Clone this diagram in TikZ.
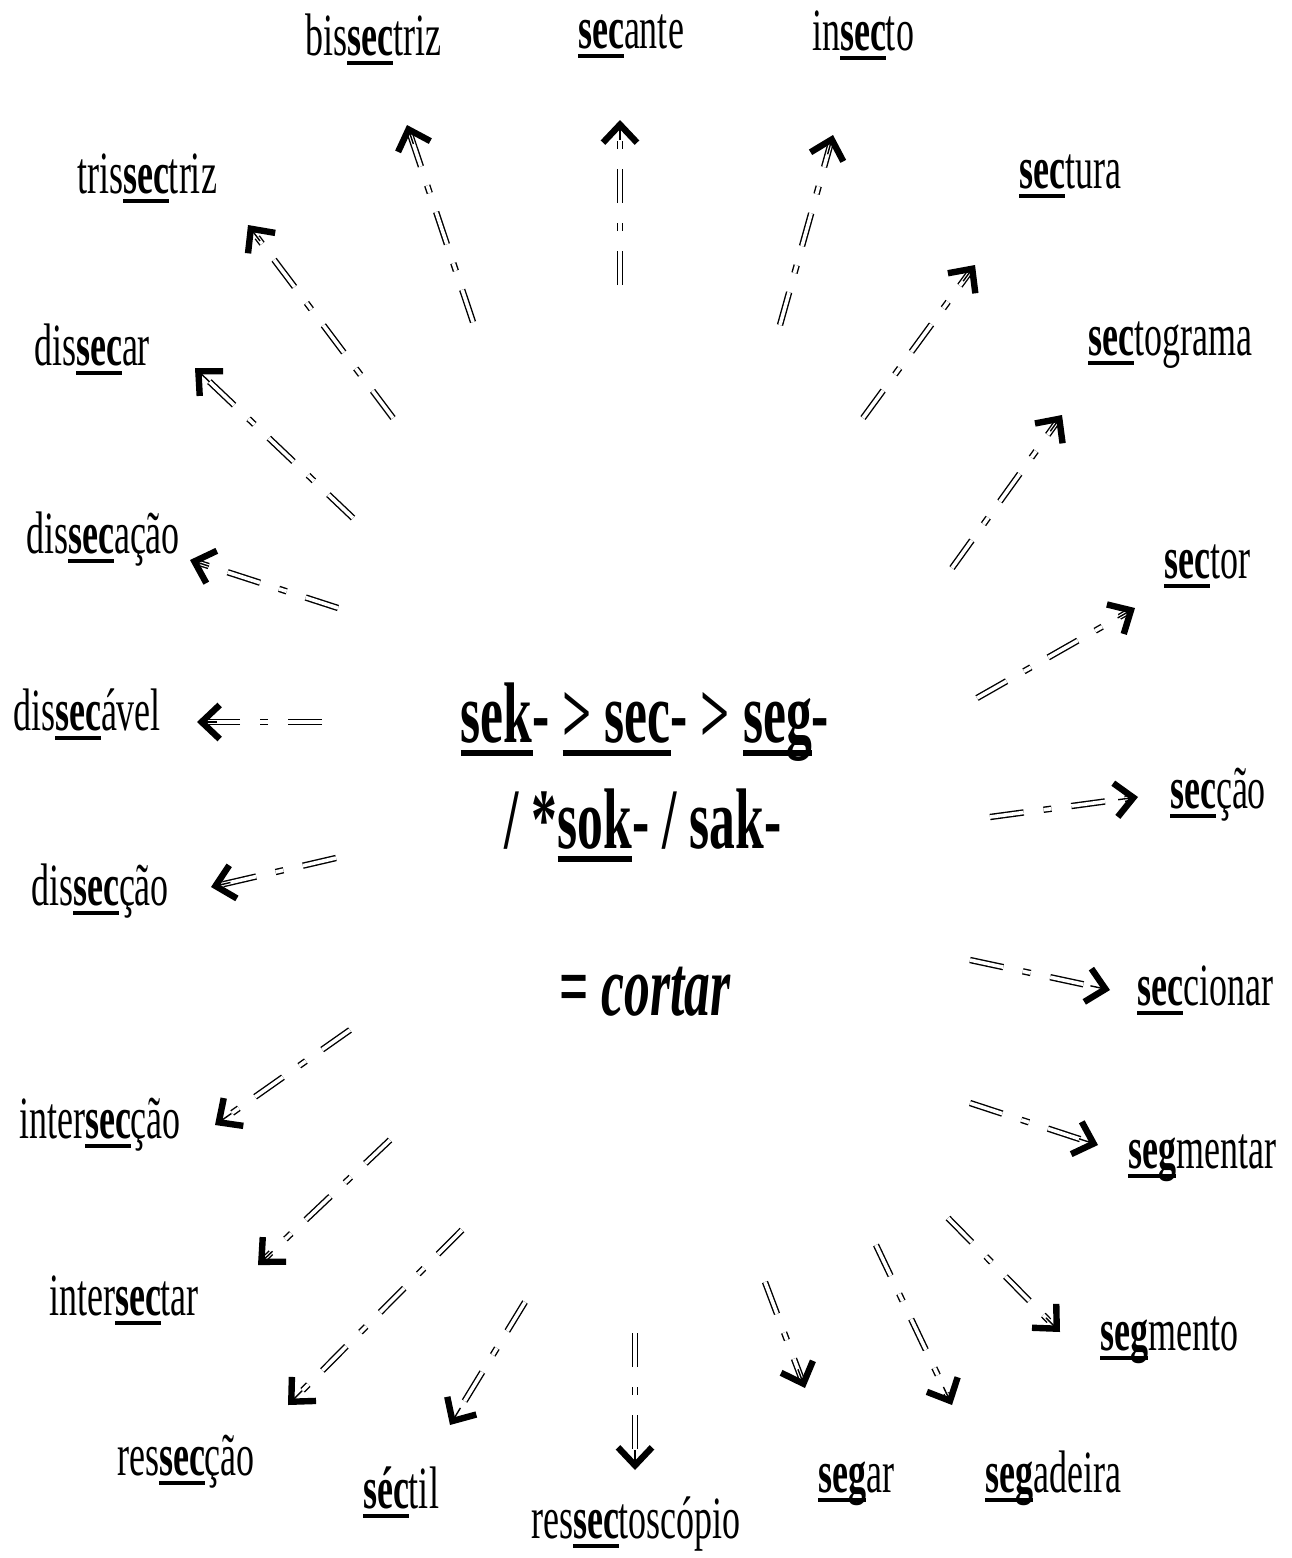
\documentclass[tikz,border=0pt]{standalone}
\usepackage{fontspec}
\setmainfont{Liberation Serif}[FakeStretch=0.6]
\usepackage{tikz}
\usetikzlibrary{arrows.meta,calc}

% root of the word: bold and underlined at a fixed depth
\newcommand\rt[1]{\setbox0\hbox{\bfseries#1}\rlap{\rule[-0.16em]{\wd0}{0.065em}}\box0}

\begin{document}
\begin{tikzpicture}[x=0.5pt,y=-0.5pt,
  word/.style={anchor=base,inner sep=0pt,font=\fontsize{30}{36}\selectfont},
  root/.style={anchor=base,inner sep=0pt,font=\fontsize{43}{50}\selectfont\bfseries},
  sekline/.style={double,double distance=1.8pt,line width=0.7pt,
    dash pattern=on 17pt off 10pt on 4pt off 10pt},
  sektip/.style={line width=0.7pt,
    -{Straight Barb[length=9pt,width=17pt,line width=3.2pt]}}]
  \useasboundingbox (0,0) rectangle (1291,1558);

  % centre
  \node[root] (line1) at (645,742) {\rt{sek}- \rt{> sec}- > \rt{seg}-};
  \node[root] (line2) at (643,848) {/ *\rt{sok}- / sak-};
  \node[root] (gloss) at (645,1015) {= \textit{cortar}};

  % words
  \node[word] (bissectriz) at (373,55) {bis\rt{sec}triz};
  \node[word] (secante) at (631,48) {\rt{sec}ante};
  \node[word] (insecto) at (863,50) {in\rt{sec}to};
  \node[word] (trissectriz) at (147,193) {tris\rt{sec}triz};
  \node[word] (sectura) at (1070,188) {\rt{sec}tura};
  \node[word] (dissecar) at (92,365) {dis\rt{sec}ar};
  \node[word] (sectograma) at (1170,355) {\rt{sec}tograma};
  \node[word] (dissecacao) at (103,553) {dis\rt{sec}ação};
  \node[word] (sector) at (1207,578) {\rt{sec}tor};
  \node[word] (dissecavel) at (87,730) {dis\rt{sec}ável};
  \node[word] (seccao) at (1218,808) {\rt{sec}ção};
  \node[word] (disseccao) at (100,905) {dis\rt{sec}ção};
  \node[word] (seccionar) at (1205,1005) {\rt{sec}cionar};
  \node[word] (interseccao) at (100,1138) {inter\rt{sec}ção};
  \node[word] (segmentar) at (1202,1168) {\rt{seg}mentar};
  \node[word] (intersectar) at (124,1315) {inter\rt{sec}tar};
  \node[word] (segmento) at (1169,1350) {\rt{seg}mento};
  \node[word] (resseccao) at (186,1475) {res\rt{sec}ção};
  \node[word] (sectil) at (401,1508) {\rt{séc}til};
  \node[word] (ressectoscopio) at (636,1538) {res\rt{sec}toscópio};
  \node[word] (segar) at (856,1492) {\rt{seg}ar};
  \node[word] (segadeira) at (1053,1492) {\rt{seg}adeira};

  % arrows from the centre outwards
  \foreach \xa/\ya/\xb/\yb/\n in {
      473/322/407/125/bissectriz, 620/285/620/120/secante,
      780/325/833/135/insecto, 393/418/248/225/trissectriz,
      863/418/975/265/sectura, 353/518/195/368/dissecar,
      952/568/1062/415/sectograma, 338/608/190/560/dissecacao,
      977/698/1135/608/sector, 322/722/197/722/dissecavel,
      990/817/1138/797/seccao, 336/858/211/887/disseccao,
      970/960/1110/990/seccionar, 350/1030/215/1125/interseccao,
      970/1103/1098/1145/segmentar, 390/1140/258/1265/intersectar,
      948/1218/1060/1332/segmento, 462/1230/288/1405/resseccao,
      525/1302/450/1425/sectil, 635/1333/635/1470/ressectoscopio,
      765/1282/805/1388/segar, 876/1245/952/1405/segadeira} {
    \coordinate (from-\n) at (\xa,\ya);
    \coordinate (to-\n) at (\xb,\yb);
    \draw[sekline] (from-\n) -- ($(to-\n)!2pt!(from-\n)$);
    \draw[sektip] ($(to-\n)!10pt!(from-\n)$) -- (to-\n);
  }
\end{tikzpicture}
\end{document}
